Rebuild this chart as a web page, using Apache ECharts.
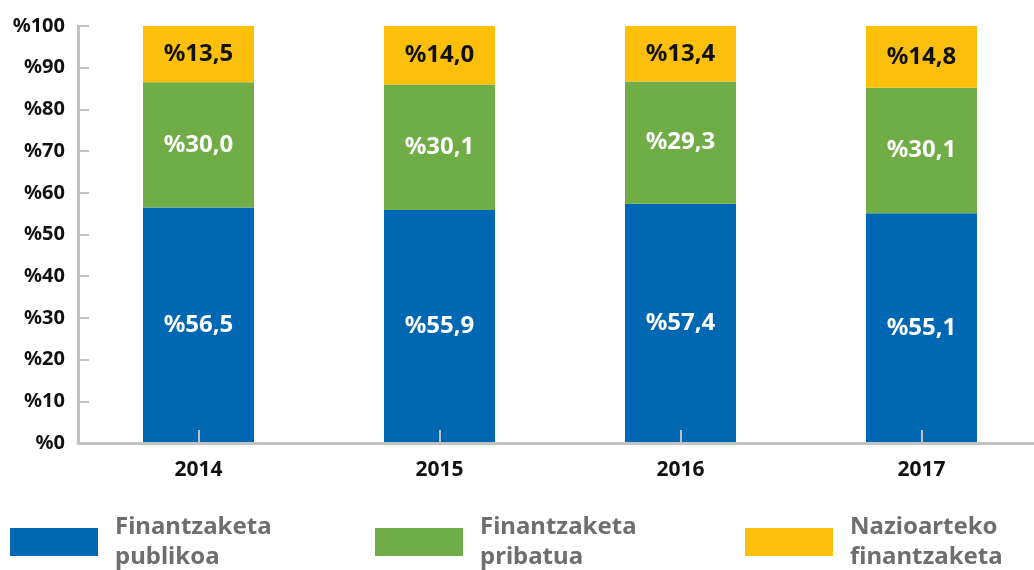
<!DOCTYPE html>
<html>
<head>
<meta charset="utf-8">
<script src="https://cdn.jsdelivr.net/npm/echarts@6/dist/echarts.min.js"></script>
<style>
  html, body { margin: 0; padding: 0; background: #fff; overflow: hidden; }
  #chart { width: 1046px; height: 570px; }
</style>
</head>
<body>
<div id="chart"></div>
<script>
const years = ['2014', '2015', '2016', '2017']
const publikoa = [56.5, 55.9, 57.4, 55.1]
const pribatua = [30.0, 30.1, 29.3, 30.1]
const nazioartekoa = [13.5, 14.0, 13.4, 14.8]
const seriesNames = ['Finantzaketa\npublikoa', 'Finantzaketa\npribatua', 'Nazioarteko\nfinantzaketa']
const yTicks = [0, 10, 20, 30, 40, 50, 60, 70, 80, 90, 100]

const myChart = echarts.init(document.getElementById('chart'))

const fmt = v => '%' + v.toFixed(1).replace('.', ',')

const barLabel = (color) => ({
  show: true,
  position: 'inside',
  color: color,
  fontFamily: 'Noto Sans',
  fontWeight: 'bold',
  fontSize: 24,
  formatter: p => fmt(p.value)
})

const legendAt = (left, name) => ({
  left: left,
  top: 512,
  padding: 0,
  icon: 'rect',
  itemWidth: 88,
  itemHeight: 28,
  selectedMode: false,
  data: [name],
  textStyle: {
    color: '#6e6e6e',
    fontFamily: 'Noto Sans',
    fontWeight: 'bold',
    fontSize: 24,
    lineHeight: 30,
    padding: [0, 0, 0, 12]
  }
})

const option = {
  animation: false,
  legend: [
    legendAt(10, seriesNames[0]),
    legendAt(375, seriesNames[1]),
    legendAt(745, seriesNames[2])
  ],
  grid: { left: 78, top: 26, width: 964, height: 417 },
  xAxis: {
    type: 'category',
    data: years,
    z: 5,
    axisLine: { lineStyle: { color: '#c2c2c2', width: 3 } },
    axisTick: { show: true, inside: true, alignWithLabel: true, length: 13, lineStyle: { color: '#c2c2c2', width: 2 } },
    axisLabel: { color: '#111', fontFamily: 'Noto Sans', fontWeight: 'bold', fontSize: 21, margin: 17 }
  },
  yAxis: {
    type: 'value',
    min: yTicks[0],
    max: yTicks[yTicks.length - 1],
    interval: 10,
    splitLine: { show: false },
    axisLine: { show: true, lineStyle: { color: '#c2c2c2', width: 3 } },
    axisTick: { show: true, inside: true, length: 11, lineStyle: { color: '#c2c2c2', width: 2 } },
    axisLabel: { color: '#111', fontFamily: 'Noto Sans', fontWeight: 'bold', fontSize: 20, margin: 13, formatter: v => '%' + v }
  },
  series: [
    { name: seriesNames[0], type: 'bar', stack: 'a', barWidth: 111, data: publikoa, itemStyle: { color: '#0067b3' }, label: barLabel('#fff') },
    { name: seriesNames[1], type: 'bar', stack: 'a', barWidth: 111, data: pribatua, itemStyle: { color: '#70ad47' }, label: barLabel('#fff') },
    { name: seriesNames[2], type: 'bar', stack: 'a', barWidth: 111, data: nazioartekoa, itemStyle: { color: '#fcbf0c' }, label: barLabel('#111') }
  ]
}

myChart.setOption(option)
</script>
</body>
</html>
